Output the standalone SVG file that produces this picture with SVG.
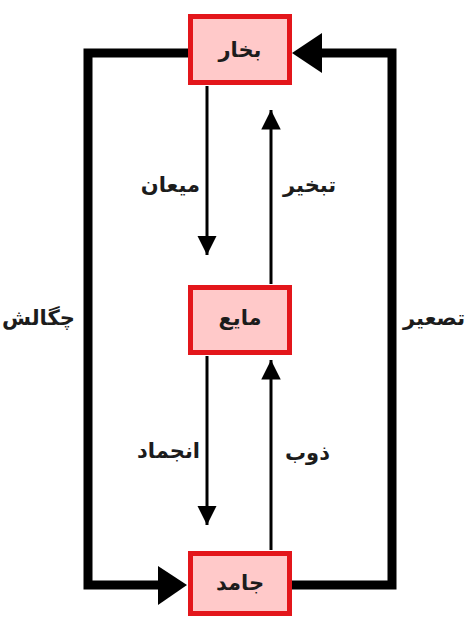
<svg xmlns="http://www.w3.org/2000/svg" width="466" height="619" viewBox="0 0 466 619">
<defs>
<style>
.box{fill:#ffc9c9;stroke:#e3161b;stroke-width:5}
.lbl{font-family:"DejaVu Sans","Noto Sans",sans-serif;font-weight:bold;font-size:21px;fill:#1c1c1c}
.thin{stroke:#000;stroke-width:3;fill:none}
.thick{stroke:#000;stroke-width:9;fill:none;stroke-linejoin:miter}
</style>
<marker id="ah" viewBox="0 0 10 10" refX="10" refY="5" markerWidth="6.5" markerHeight="6.5" markerUnits="strokeWidth" orient="auto">
<path d="M0,0 L10,5 L0,10 z" fill="#000"/>
</marker>
</defs>
<rect width="466" height="619" fill="#fff"/>
<g id="connectors">
<line class="thin" x1="207" y1="86" x2="207" y2="255" marker-end="url(#ah)"/>
<line class="thin" x1="271" y1="284" x2="271" y2="110" marker-end="url(#ah)"/>
<line class="thin" x1="207" y1="356" x2="207" y2="525" marker-end="url(#ah)"/>
<line class="thin" x1="271" y1="550" x2="271" y2="360" marker-end="url(#ah)"/>
<path class="thick" d="M188,53 H88 V585 H160"/>
<path d="M158,566 L187,585 L158,605 z" fill="#000"/>
<path class="thick" d="M292,585 H392 V53 H320"/>
<path d="M322,33 L292,53 L322,73 z" fill="#000"/>
<text class="lbl" x="200" y="192" text-anchor="end">میعان</text>
<text class="lbl" x="283" y="192" text-anchor="start">تبخیر</text>
<text class="lbl" x="200" y="458" text-anchor="end">انجماد</text>
<text class="lbl" x="285" y="460" text-anchor="start">ذوب</text>
<text class="lbl" x="2" y="325" text-anchor="start">چگالش</text>
<text class="lbl" x="403" y="325" text-anchor="start">تصعیر</text>
</g>
<g id="bakhar">
<rect class="box" x="190.5" y="16.5" width="99" height="66"/>
<text class="lbl" x="240" y="57" text-anchor="middle">بخار</text>
</g>
<g id="mayeh">
<rect class="box" x="190.5" y="287.5" width="99" height="65"/>
<text class="lbl" x="240" y="325" text-anchor="middle">مایع</text>
</g>
<g id="jamed">
<rect class="box" x="190.5" y="553.5" width="99" height="60"/>
<text class="lbl" x="240" y="590" text-anchor="middle">جامد</text>
</g>
</svg>
